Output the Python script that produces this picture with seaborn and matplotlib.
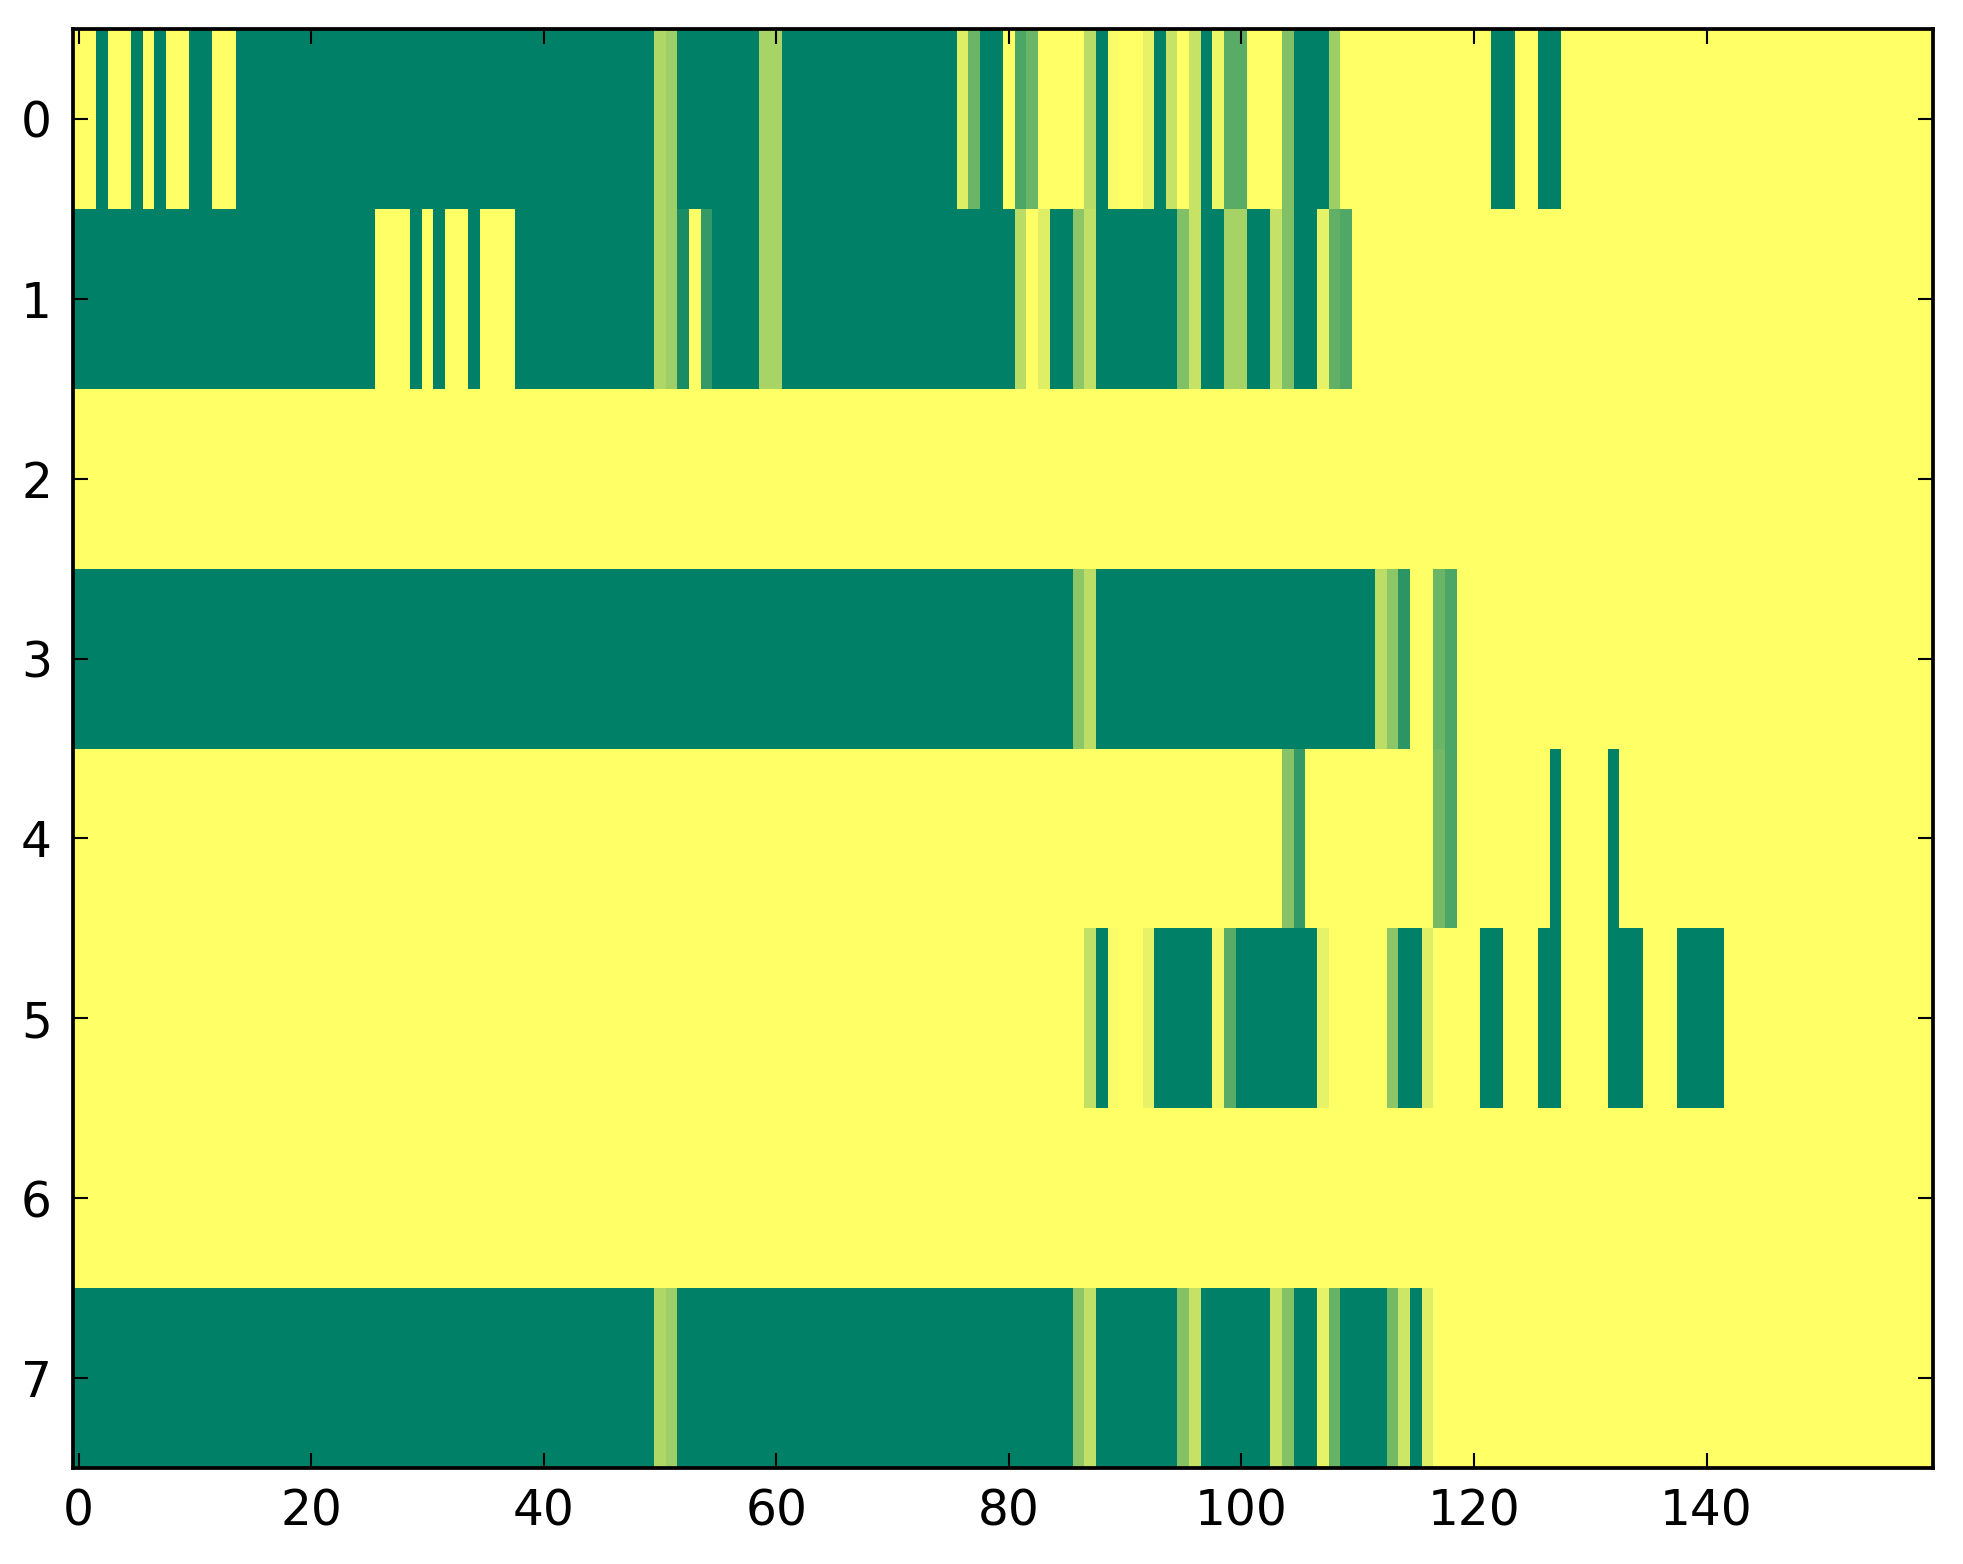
import numpy as np
import matplotlib
matplotlib.use("Agg")
import matplotlib.pyplot as plt
import seaborn as sns

# each row is written as (value, run length) pairs, 160 columns per row
row0 = [(1.0, 2), (0.0, 1), (1.0, 2), (0.0, 1), (1.0, 1), (0.0, 1), (1.0, 2), (0.0, 2),
        (1.0, 2), (0.0, 36), (0.68, 1), (0.62, 1), (0.0, 7), (0.66, 2), (0.0, 15),
        (0.87, 1), (0.42, 1), (0.0, 2), (1.0, 1), (0.30, 1), (0.42, 1), (1.0, 4),
        (0.72, 1), (0.0, 1), (0.97, 1), (1.0, 2), (0.90, 1), (0.0, 1), (0.78, 1),
        (1.0, 1), (0.78, 1), (0.0, 1), (0.93, 1), (0.35, 2), (1.0, 3), (0.50, 1),
        (0.0, 3), (0.62, 1), (1.0, 13), (0.0, 2), (1.0, 2), (0.0, 2), (1.0, 32)]
row1 = [(0.0, 26), (1.0, 3), (0.0, 1), (1.0, 1), (0.0, 1), (1.0, 2), (0.0, 1), (1.0, 3),
        (0.0, 12), (0.68, 1), (0.62, 1), (0.10, 1), (1.0, 1), (0.20, 1), (0.0, 4),
        (0.66, 2), (0.0, 20), (0.72, 1), (1.0, 1), (0.87, 1), (0.0, 2), (0.55, 1),
        (0.75, 1), (0.0, 7), (0.50, 1), (0.78, 1), (0.0, 2), (0.65, 2), (0.0, 2),
        (0.77, 1), (0.50, 1), (0.0, 2), (0.90, 1), (0.38, 1), (0.32, 1), (1.0, 50)]
row2 = [(1.0, 160)]
row3 = [(0.0, 86), (0.55, 1), (0.74, 1), (0.0, 24), (0.74, 1), (0.55, 1), (0.17, 1),
        (1.0, 2), (0.42, 1), (0.30, 1), (1.0, 41)]
row4 = [(1.0, 104), (0.53, 1), (0.20, 1), (1.0, 11), (0.45, 1), (0.30, 1), (1.0, 8),
        (0.0, 1), (1.0, 4), (0.0, 1), (1.0, 27)]
row5 = [(1.0, 87), (0.75, 1), (0.0, 1), (0.97, 1), (1.0, 2), (0.90, 1), (0.0, 5),
        (0.95, 1), (0.35, 1), (0.0, 7), (0.90, 1), (1.0, 5), (0.55, 1), (0.0, 2),
        (0.87, 1), (1.0, 4), (0.0, 2), (1.0, 3), (0.0, 2), (1.0, 4), (0.0, 3),
        (1.0, 3), (0.0, 4), (1.0, 18)]
row6 = [(1.0, 160)]
row7 = [(0.0, 50), (0.68, 1), (0.62, 1), (0.0, 34), (0.55, 1), (0.75, 1), (0.0, 7),
        (0.52, 1), (0.77, 1), (0.0, 6), (0.78, 1), (0.52, 1), (0.0, 2), (0.90, 1),
        (0.40, 1), (0.0, 4), (0.45, 1), (0.80, 1), (0.0, 1), (0.87, 1), (1.0, 43)]

rows = [row0, row1, row2, row3, row4, row5, row6, row7]
x_ticks = [0, 20, 40, 60, 80, 100, 120, 140]
y_ticks = [0, 1, 2, 3, 4, 5, 6, 7]


def expand(runs):
    out = []
    for v, n in runs:
        out.extend([v] * n)
    return out


grid = np.array([expand(r) for r in rows])

sns.set_style("white")
plt.rcParams["font.family"] = ["DejaVu Sans"]

W, H, DPI = 1963, 1564, 200
fig = plt.figure(figsize=(W / DPI, H / DPI), dpi=DPI)
left, right, top, bottom = 72.8, 1933.3, 28.7, 1468.3
ax = fig.add_axes([left / W, 1 - bottom / H, (right - left) / W, (bottom - top) / H])

sns.heatmap(grid, cmap="summer", vmin=0, vmax=1, cbar=False, ax=ax,
            xticklabels=False, yticklabels=False, antialiased=False)

ax.set_xticks(np.array(x_ticks) + 0.5)
ax.set_xticklabels([str(t) for t in x_ticks])
ax.set_yticks(np.array(y_ticks) + 0.5)
ax.set_yticklabels([str(t) for t in y_ticks], rotation=0)

# heatmap despines and moves ticks; put everything back like plain imshow
ax.set_axisbelow(False)
for s in ax.spines.values():
    s.set_visible(True)
    s.set_color("black")
    s.set_linewidth(1.35)
    s.set_zorder(5)

ax.tick_params(axis="both", which="major", direction="in", length=5.4, width=0.75,
               color="black", labelcolor="black", labelsize=17.5,
               top=True, right=True, left=True, bottom=True,
               labeltop=False, labelright=False, labelleft=True, labelbottom=True)
ax.tick_params(axis="x", pad=7)
ax.tick_params(axis="y", pad=7.5)

plt.savefig("out.png", dpi=DPI)
